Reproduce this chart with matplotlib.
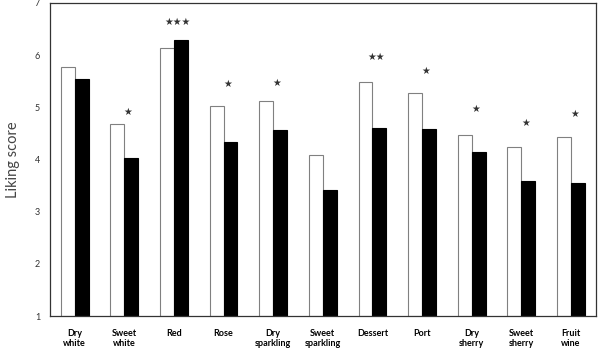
import matplotlib
matplotlib.use('Agg')
import matplotlib.pyplot as plt
import numpy as np

plt.rcParams['font.family'] = ['Lato', 'DejaVu Sans']

wines = ['Dry\nwhite', 'Sweet\nwhite', 'Red', 'Rose', 'Dry\nsparkling',
         'Sweet\nsparkling', 'Dessert', 'Port', 'Dry\nsherry', 'Sweet\nsherry',
         'Fruit\nwine']
white_vals = [5.77, 4.67, 6.13, 5.02, 5.12, 4.08, 5.48, 5.27, 4.46, 4.23, 4.44]
black_vals = [5.54, 4.02, 6.29, 4.33, 4.56, 3.42, 4.60, 4.58, 4.15, 3.58, 3.54]
stars = ['', '*', '***', '*', '*', '', '**', '*', '*', '*', '*']
star_y = [0, 4.91, 6.64, 5.45, 5.47, 0, 5.96, 5.70, 4.97, 4.70, 4.87]

fig = plt.figure(figsize=(6, 3.54), dpi=100)
ax = fig.add_axes([0.083, 0.107, 0.91, 0.885])

x = np.arange(len(wines))
w = 0.28
ax.bar(x - w / 2, np.array(white_vals) - 1, w, bottom=1, color='white',
       edgecolor='#808080', linewidth=0.8)
ax.bar(x + w / 2, np.array(black_vals) - 1, w, bottom=1, color='black',
       edgecolor='black', linewidth=0.8)

for xi, s, sy in zip(x, stars, star_y):
    if s:
        ax.text(xi + 0.08, sy, s.replace('*', '\u2605'), ha='center',
                va='center', fontsize=7, color='#333333',
                family='DejaVu Sans')

ax.set_xlim(-0.5, len(wines) - 0.5)
ax.set_ylim(1, 7)
ax.set_yticks(range(1, 8))
ax.tick_params(axis='y', length=0, labelsize=6.5, labelcolor='#333333', pad=7)
ax.set_xticks(x)
ax.set_xticklabels(wines, fontsize=6.5, fontweight='bold', linespacing=1.2)
ax.tick_params(axis='x', length=0, pad=9)
ax.set_ylabel('Liking score', fontsize=10.5, color='#444444', labelpad=11)
for sp in ax.spines.values():
    sp.set_color('#333333')
    sp.set_linewidth(0.9)

fig.savefig('out.png', dpi=100)
